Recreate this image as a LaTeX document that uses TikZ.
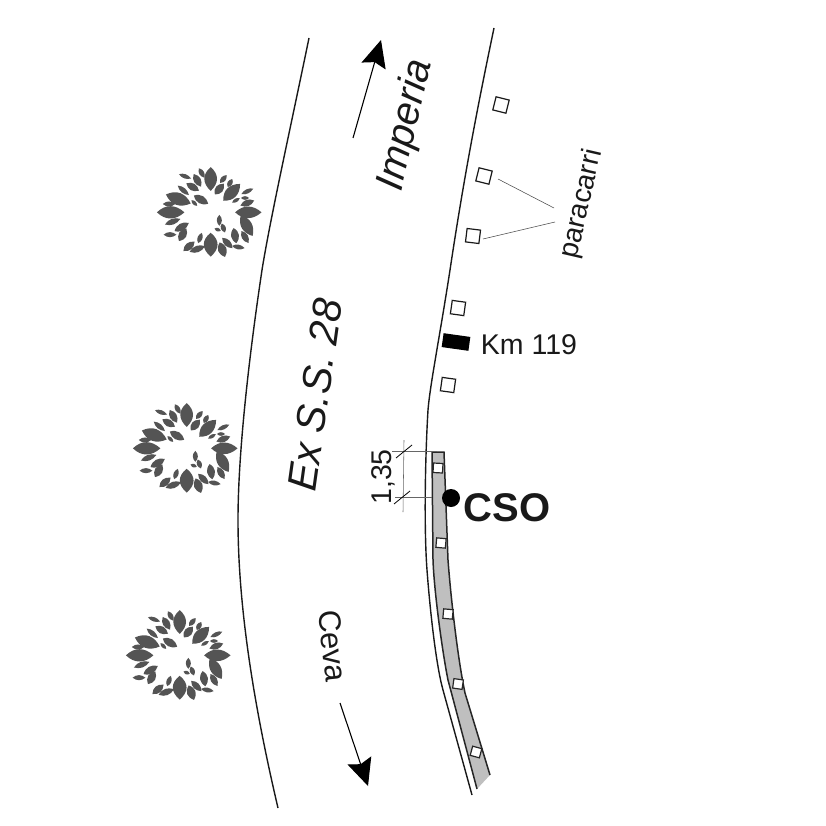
\documentclass[tikz,border=0pt]{standalone}
\usepackage{fontspec}
\setmainfont{Liberation Sans}
\usetikzlibrary{arrows.meta}
\definecolor{leafgrey}{gray}{0.33}
\definecolor{walkgrey}{gray}{0.75}
\newcommand{\treeleaves}{
  \foreach \lx/\ly/\lr/\ll/\lw in {
    272/88/90/65/35, 245/70/60/30/14, 232/92/60/40/20, 195/80/20/35/12, 218/112/30/40/20,
    190/122/40/40/14, 175/148/20/72/34, 243/150/30/45/22, 223/160/45/22/10, 147/163/0/34/14,
    152/188/0/75/34, 158/216/-20/45/16, 185/232/-30/45/20, 188/255/-60/40/22, 150/255/0/35/14,
    207/290/-40/40/20, 232/298/-20/45/18, 240/265/-70/30/14, 272/285/90/65/38, 307/300/70/42/24,
    322/280/45/40/18, 345/258/80/42/22, 355/292/10/35/13, 375/262/60/38/18, 380/228/60/65/30,
    385/188/0/72/32, 382/160/-20/40/18, 375/145/0/22/10, 382/125/-25/36/12, 335/128/-45/65/32,
    348/152/-30/24/10, 298/118/-50/38/22, 310/88/-50/28/14, 330/100/-60/25/14, 298/212/90/30/14,
    310/235/70/26/14, 293/240/20/18/10}{
    \fill[leafgrey,shift={(\lx-270,\ly-190)},rotate=-\lr]
      (-\ll*0.55,0) .. controls (-\ll*0.2,-\lw*0.75) and (\ll*0.2,-\lw*0.7) .. (\ll*0.55,0)
      .. controls (\ll*0.2,\lw*0.7) and (-\ll*0.2,\lw*0.75) .. (-\ll*0.55,0) -- cycle;
  }
}
\tikzset{
  roadline/.style={line width=1.4pt,black!90},
  walkline/.style={line width=1.5pt,black!85},
  post/.style={draw=black!90,line width=1.2pt,fill=white,minimum size=13.5pt,inner sep=0pt,outer sep=0pt},
  smallpost/.style={draw=black!85,line width=1.2pt,fill=white,minimum size=9.5pt,inner sep=0pt,outer sep=0pt},
  leader/.style={line width=0.55pt,black!70},
  dimline/.style={line width=0.55pt,black!60},
  dimtick/.style={line width=0.8pt,black},
  dirarrow/.style={line width=1.1pt,-{Stealth[length=27pt,width=25pt,inset=4pt]}},
  lab/.style={inner sep=0pt,outer sep=0pt,text=black!90},
  tree/.style={x=0.3333pt,y=-0.3333pt}
}
\begin{document}
\begin{tikzpicture}[x=1pt,y=-1pt]
\useasboundingbox (0,0) rectangle (826,826);
% trees
\begin{scope}[shift={(210,213)},tree]\treeleaves\end{scope}
\begin{scope}[shift={(186,449)},tree]\treeleaves\end{scope}
\begin{scope}[shift={(179,656)},tree]\treeleaves\end{scope}
% road edges
\draw[roadline] (309,38) .. controls (290,130) and (270,220) .. (262,270)
  .. controls (250,350) and (238,450) .. (238,520)
  .. controls (238,610) and (255,710) .. (278,808);
\draw[roadline] (494,28) .. controls (480,95) and (465,170) .. (450,270)
  .. controls (440,335) and (430,385) .. (428,410)
  .. controls (425,460) and (424,530) .. (427,570)
  .. controls (430,610) and (436,665) .. (443,690)
  -- (472,795);
% sidewalk
\fill[walkgrey] (432,452) -- (444,452) -- (448,560) .. controls (451,600) and (458,660) .. (465,693)
  -- (490,775) -- (477,789) -- (448,680) .. controls (442,650) and (434,590) .. (433,560) -- cycle;
\draw[walkline] (433,560) -- (432,452) -- (444,452) -- (448,560)
  .. controls (451,600) and (458,660) .. (465,693) -- (490,775);
\draw[walkline] (433,560) .. controls (434,590) and (442,650) .. (448,680) -- (477,789);
% posts on the sidewalk
\node[smallpost,rotate=-3] (s1) at (438,468) {};
\node[smallpost,rotate=-5] (s2) at (441,543) {};
\node[smallpost,rotate=-5] (s3) at (448,614) {};
\node[smallpost,rotate=-8] (s4) at (458,684) {};
\node[smallpost,rotate=-15] (s5) at (476,752) {};
% paracarri
\node[post,rotate=-14] (p1) at (501,105) {};
\node[post,rotate=-14] (p2) at (484,176) {};
\node[post,rotate=-7] (p3) at (473,236) {};
\node[post,rotate=-8] (p4) at (458,308) {};
\node[post,rotate=-8] (p5) at (448,385) {};
\node[fill=black,minimum width=27pt,minimum height=14pt,inner sep=0pt,rotate=-8] (km) at (456,342) {};
% leaders
\coordinate (l1) at (498,179); \coordinate (l2) at (554,208);
\coordinate (l3) at (483,239); \coordinate (l4) at (555,222);
\draw[leader] (l1) -- (l2);
\draw[leader] (l3) -- (l4);
% dimension
\coordinate (d1) at (392,451); \coordinate (d2) at (437,451);
\coordinate (d3) at (395,497); \coordinate (d4) at (432,497);
\coordinate (d5) at (404,440); \coordinate (d6) at (403,512);
\coordinate (t1) at (396,458); \coordinate (t2) at (412,445);
\coordinate (t3) at (394,504); \coordinate (t4) at (410,491);
\draw[dimline] (d1) -- (d2);
\draw[dimline] (d3) -- (d4);
\draw[dimline] (d5) -- (d6);
\draw[dimtick] (t1) -- (t2);
\draw[dimtick] (t3) -- (t4);
\node[fill=black,circle,minimum size=18pt,inner sep=0pt] (dot) at (451,498) {};
% direction arrows
\coordinate (a1) at (353,138); \coordinate (a2) at (381,40);
\coordinate (b1) at (340,703); \coordinate (b2) at (368,786);
\draw[dirarrow] (a1) -- (a2);
\draw[dirarrow] (b1) -- (b2);
% labels
\node[lab,rotate=77,font=\itshape\fontsize{40}{40}\selectfont] (imp) at (406,125) {Imperia};
\node[lab,rotate=82,font=\itshape\fontsize{41}{41}\selectfont] (ex) at (315,395) {Ex S.S. 28};
\node[lab,rotate=-84,font=\fontsize{31}{31}\selectfont] (cv) at (333,646) {Ceva};
\node[lab,rotate=77,font=\fontsize{28}{28}\selectfont] (par) at (582,204) {paracarri};
\node[lab,font=\fontsize{28.5}{28.5}\selectfont] (kml) at (529,345) {Km 119};
\node[lab,rotate=90,font=\fontsize{28.5}{28.5}\selectfont] (dim) at (383,477) {1,35};
\node[lab,font=\bfseries\fontsize{40}{40}\selectfont] (cso) at (507,508) {CSO};
\end{tikzpicture}
\end{document}
